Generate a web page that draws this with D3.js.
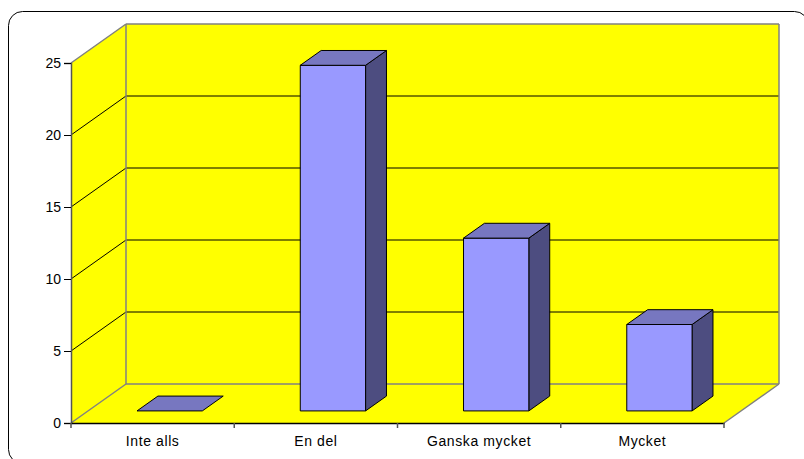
<!DOCTYPE html>
<html>
<head>
<meta charset="utf-8">
<script src="https://cdn.jsdelivr.net/npm/d3@7"></script>
<style>
  html, body { margin: 0; padding: 0; background: #fff; }
  svg { display: block; font-family: "Liberation Sans", Arial, sans-serif; }
</style>
</head>
<body>
<svg id="chart" width="804" height="459"></svg>
<script>
// Survey answers and counts
const categories = ["Inte alls", "En del", "Ganska mycket", "Mycket"];
const values = [0, 24, 12, 6];
const yTicks = [0, 5, 10, 15, 20, 25];

const svg = d3.select("#chart");

// Front plane of the 3D box and its depth offset
const plot = { left: 71, right: 724, top: 63, bottom: 423 };
const depth = { dx: 55, dy: -39 };
const barFront = 0.31, barBack = 0.69; // bar depth as fractions of the box depth

const x = d3.scaleBand().domain(categories).range([plot.left, plot.right]).paddingInner(0).paddingOuter(0);
const y = d3.scaleLinear().domain([0, 25]).range([plot.bottom, plot.top]);
const barW = x.bandwidth() * 0.4;

const off = f => [depth.dx * f, depth.dy * f];
const pts = a => a.map(p => p.join(",")).join(" ");

// Outer frame
svg.append("rect")
  .attr("x", 8.5).attr("y", 11.5).attr("width", 800).attr("height", 452)
  .attr("rx", 14).attr("fill", "#fff").attr("stroke", "#000").attr("stroke-width", 1);

const yellow = "#ffff00";
const edge = "#808080";
const [bx, by] = off(1);

// Left side wall
svg.append("polygon")
  .attr("points", pts([[plot.left, y(0)], [plot.left, y(25)], [plot.left + bx, y(25) + by], [plot.left + bx, y(0) + by]]))
  .attr("fill", yellow);
// Floor
svg.append("polygon")
  .attr("points", pts([[plot.left, y(0)], [plot.right, y(0)], [plot.right + bx, y(0) + by], [plot.left + bx, y(0) + by]]))
  .attr("fill", yellow);
// Back wall
svg.append("rect")
  .attr("x", plot.left + bx).attr("y", y(25) + by)
  .attr("width", plot.right - plot.left).attr("height", y(0) - y(25))
  .attr("fill", yellow);

// Gridlines on side wall and back wall
yTicks.filter(t => t > 0 && t < 25).forEach(t => {
  svg.append("line")
    .attr("x1", plot.left).attr("y1", y(t)).attr("x2", plot.left + bx).attr("y2", y(t) + by)
    .attr("stroke", "#000").attr("stroke-width", 1);
  svg.append("line")
    .attr("x1", plot.left + bx).attr("y1", y(t) + by).attr("x2", plot.right + bx).attr("y2", y(t) + by)
    .attr("stroke", "#000").attr("stroke-width", 1);
});

// Wall edges
const edges = [
  [[plot.left, y(25)], [plot.left + bx, y(25) + by]],
  [[plot.left + bx, y(25) + by], [plot.right + bx, y(25) + by]],
  [[plot.right + bx, y(25) + by], [plot.right + bx, y(0) + by]],
  [[plot.left + bx, y(25) + by], [plot.left + bx, y(0) + by]],
  [[plot.left + bx, y(0) + by], [plot.right + bx, y(0) + by]],
  [[plot.left, y(0)], [plot.left + bx, y(0) + by]],
  [[plot.right, y(0)], [plot.right + bx, y(0) + by]]
];
edges.forEach(([a, b]) => {
  svg.append("line")
    .attr("x1", a[0]).attr("y1", a[1]).attr("x2", b[0]).attr("y2", b[1])
    .attr("stroke", edge).attr("stroke-width", 1.5);
});

// Bars
const [fx, fy] = off(barFront);
const [kx, ky] = off(barBack);
const bars = svg.append("g");
categories.forEach((c, i) => {
  const v = values[i];
  const x0 = x(c) + (x.bandwidth() - barW) / 2 + fx;
  const x1 = x0 + barW;
  const yb = y(0) + fy;
  const yt = y(v) + fy;
  const ddx = kx - fx, ddy = ky - fy;
  const g = bars.append("g").attr("stroke", "#000").attr("stroke-width", 1).attr("stroke-linejoin", "round");
  if (v > 0) {
    // side face
    g.append("polygon")
      .attr("points", pts([[x1, yb], [x1, yt], [x1 + ddx, yt + ddy], [x1 + ddx, yb + ddy]]))
      .attr("fill", "#4d4d80");
    // front face
    g.append("rect")
      .attr("x", x0).attr("y", yt).attr("width", barW).attr("height", yb - yt)
      .attr("fill", "#9999ff");
  }
  // top face
  g.append("polygon")
    .attr("points", pts([[x0, yt], [x1, yt], [x1 + ddx, yt + ddy], [x0 + ddx, yt + ddy]]))
    .attr("fill", "#7777c0");
});

// Value axis
const yAxis = svg.append("g").attr("transform", `translate(${plot.left},0)`)
  .call(d3.axisLeft(y).tickValues(yTicks).tickSize(7).tickPadding(3).tickFormat(d3.format("d")));
yAxis.select(".domain").attr("stroke", "#555").attr("stroke-width", 1.5);
yAxis.selectAll(".tick line").attr("stroke", "#000");
yAxis.selectAll("text").attr("font-size", 14).attr("fill", "#000")
  .attr("font-family", "Liberation Sans, Arial, sans-serif");

// Category axis
const xAxis = svg.append("g").attr("transform", `translate(0,${plot.bottom})`)
  .call(d3.axisBottom(x).tickSize(0).tickPadding(13));
xAxis.select(".domain").attr("stroke", "#000").attr("stroke-width", 1.5);
xAxis.selectAll("text").attr("font-size", 14).attr("fill", "#000")
  .attr("letter-spacing", "0.6px")
  .attr("font-family", "Liberation Sans, Arial, sans-serif");
// Tick marks between categories
const bounds = categories.map(c => x(c)).concat([plot.right]);
xAxis.selectAll(".sep").data(bounds).join("line").attr("class", "sep")
  .attr("x1", d => d).attr("x2", d => d).attr("y1", 0).attr("y2", 5)
  .attr("stroke", "#555").attr("stroke-width", 1.5);
</script>
</body>
</html>
